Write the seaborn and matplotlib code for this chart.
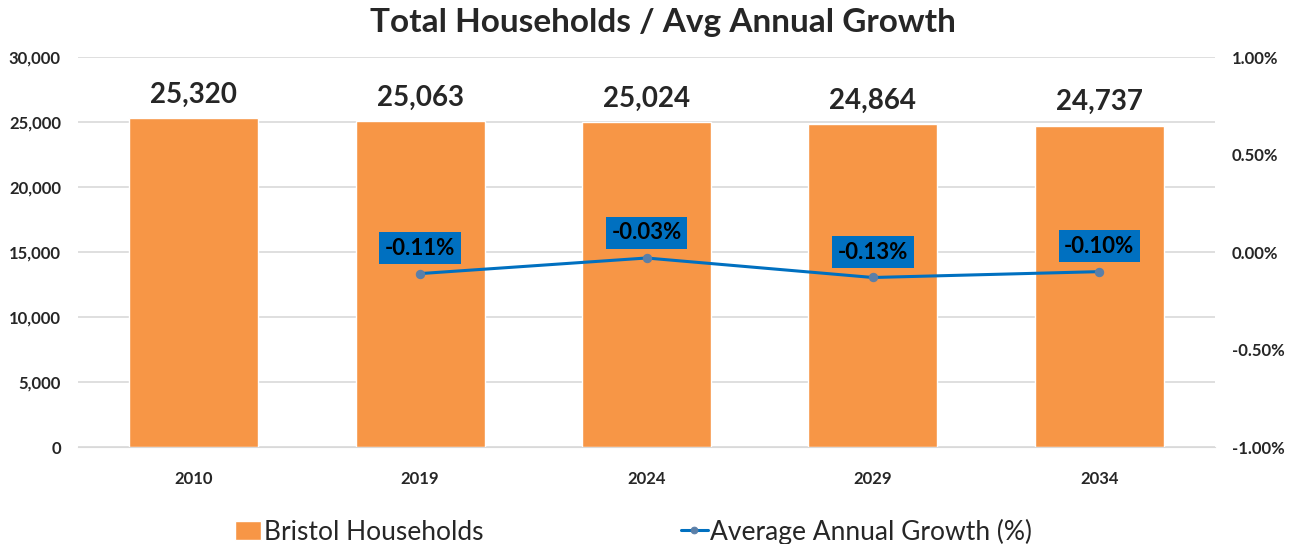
import pandas as pd
import numpy as np
import matplotlib.pyplot as plt
import seaborn as sns
from matplotlib.ticker import FuncFormatter

# ---- Data ----
years = ['2010', '2019', '2024', '2029', '2034']
households = [25320, 25063, 25024, 24864, 24737]
growth_years = ['2019', '2024', '2029', '2034']
growth = [-0.11, -0.03, -0.13, -0.10]

df = pd.DataFrame({'Year': years, 'Households': households})
dg = pd.DataFrame({'Year': growth_years, 'Growth': growth})

sns.set_style('white')
plt.rcParams['font.family'] = ['Lato', 'DejaVu Sans']

orange = '#F79646'
blue = '#0070C0'

fig = plt.figure(figsize=(12.93, 5.44), dpi=100)
ax = fig.add_axes([0.060, 0.178, 0.880, 0.717])

# ---- Bars ----
sns.barplot(data=df, x='Year', y='Households', color=orange, width=0.57,
            saturation=1, ax=ax, label='Bristol Households', zorder=2)
ax.set_ylim(0, 30000)
ax.set_yticks(np.arange(0, 30001, 5000))
ax.yaxis.set_major_formatter(FuncFormatter(lambda v, p: f'{v:,.0f}'))
ax.grid(axis='y', color='#D9D9D9', linewidth=1.2, zorder=0)
ax.set_axisbelow(True)
ax.set_xlabel('')
ax.set_ylabel('')
for s in ax.spines.values():
    s.set_visible(False)
ax.spines['bottom'].set_visible(True)
ax.spines['bottom'].set_color('#D9D9D9')
ax.tick_params(axis='both', length=0, labelsize=12)
for t in ax.get_xticklabels() + ax.get_yticklabels():
    t.set_fontweight('bold')
ax.tick_params(axis='x', pad=17)
ax.tick_params(axis='y', pad=12)

for i, v in enumerate(households):
    ax.text(i, v + 800, f'{v:,}', ha='center', va='bottom',
            fontsize=20, fontweight='bold')

# ---- Growth line ----
ax2 = ax.twinx()
xpos = [years.index(y) for y in growth_years]
sns.lineplot(x=xpos, y=growth, color=blue, linewidth=2.2, marker='o',
             markersize=6, markerfacecolor='#5B7FA8', markeredgecolor='#5B7FA8',
             ax=ax2, label='Average Annual Growth (%)', zorder=3)
ax2.set_ylim(-1.0, 1.0)
ax2.set_yticks(np.arange(-1.0, 1.01, 0.5))
ax2.yaxis.set_major_formatter(FuncFormatter(lambda v, p: f'{v:.2f}%'))
for s in ax2.spines.values():
    s.set_visible(False)
ax2.tick_params(axis='y', length=0, labelsize=12, pad=12)
for t in ax2.get_yticklabels():
    t.set_fontweight('bold')
ax2.set_xlim(ax.get_xlim())

for x, g in zip(xpos, growth):
    ax2.text(x, g + 0.13, f'{g:.2f}%', ha='center', va='center',
             fontsize=16, fontweight='bold', color='black',
             bbox=dict(boxstyle='square,pad=0.25', facecolor=blue, edgecolor='none'))

# ---- Legend ----
h1, l1 = ax.get_legend_handles_labels()
h2, l2 = ax2.get_legend_handles_labels()
if ax.get_legend():
    ax.get_legend().remove()
if ax2.get_legend():
    ax2.get_legend().remove()
fig.legend(h1 + h2, l1 + l2, loc='lower center', bbox_to_anchor=(0.49, -0.045),
           ncol=2, frameon=False, fontsize=19, columnspacing=7.5,
           handlelength=1.0, handletextpad=0.1, markerscale=0.8)

fig.suptitle('Total Households / Avg Annual Growth', fontsize=24,
             fontweight='bold', x=0.513, y=0.985)

plt.savefig('out.png', dpi=100)
plt.close()
